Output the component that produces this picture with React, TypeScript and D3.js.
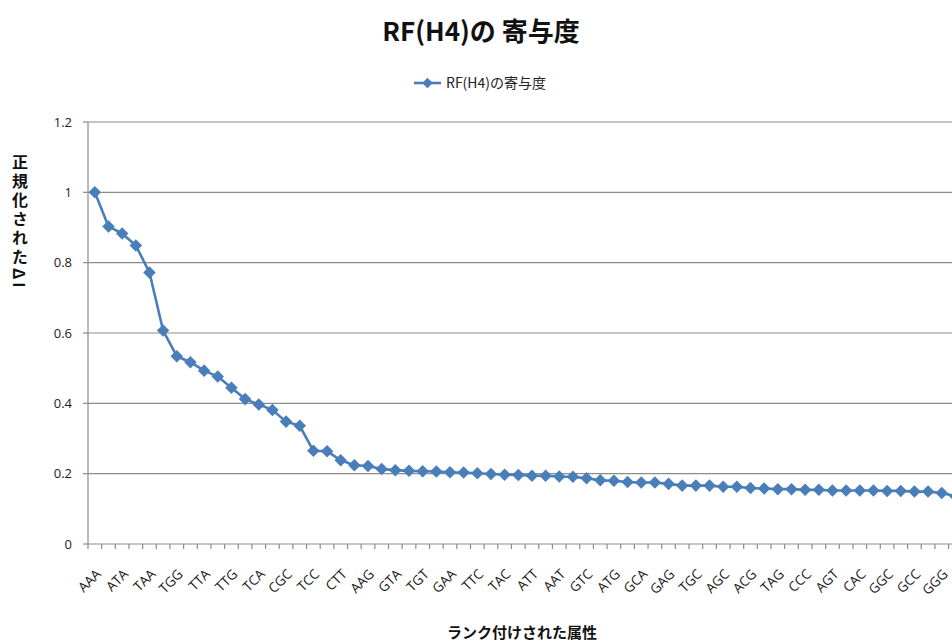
import React, { useEffect, useRef } from "react";
import * as d3 from "d3";

// Ranked contribution of each codon attribute (normalised so the top = 1)
const values: number[] = [
  1.0, 0.903, 0.883, 0.849, 0.772, 0.607, 0.534, 0.517, 0.493, 0.476,
  0.444, 0.412, 0.397, 0.381, 0.348, 0.336, 0.265, 0.264, 0.238, 0.224,
  0.222, 0.213, 0.21, 0.208, 0.207, 0.206, 0.204, 0.203, 0.201, 0.199,
  0.197, 0.196, 0.194, 0.194, 0.192, 0.191, 0.187, 0.181, 0.18, 0.176,
  0.175, 0.175, 0.171, 0.166, 0.166, 0.166, 0.163, 0.163, 0.159, 0.158,
  0.156, 0.156, 0.154, 0.154, 0.152, 0.152, 0.152, 0.152, 0.151, 0.151,
  0.149, 0.149, 0.145, 0.136,
];

// Labels shown on every second rank (0, 2, 4, ...)
const tickLabels: string[] = [
  "AAA", "ATA", "TAA", "TGG", "TTA", "TTG", "TCA", "CGC", "TCC", "CTT",
  "AAG", "GTA", "TGT", "GAA", "TTC", "TAC", "ATT", "AAT", "GTC", "ATG",
  "GCA", "GAG", "TGC", "AGC", "ACG", "TAG", "CCC", "AGT", "CAC", "GGC",
  "GCC", "GGG",
];

const yTicks: number[] = [0, 0.2, 0.4, 0.6, 0.8, 1, 1.2];

const seriesName = "RF(H4)の寄与度";
const title = "RF(H4)の 寄与度";
const xTitle = "ランク付けされた属性";
const yTitle = "正規化されたΔI";

const W = 952;
const H = 643;
const left = 88;
const top = 122;
const bottom = 544;
const band = 13.66;
const blue = "#4a7ebb";
const grid = "#8c8c8c";
const jp = "'Noto Sans CJK JP', 'Noto Sans', sans-serif";
const latin = "'Open Sans', 'Liberation Sans', Arial, sans-serif";

export default function App() {
  const ref = useRef<SVGSVGElement | null>(null);

  useEffect(() => {
    const svg = d3.select(ref.current);
    svg.selectAll("*").remove();

    const idx = d3.range(values.length);
    const x = d3
      .scaleBand<number>()
      .domain(idx)
      .range([left, left + band * values.length])
      .padding(0);
    const y = d3.scaleLinear().domain([0, 1.2]).range([bottom, top]);
    const cx = (i: number) => (x(i) as number) + x.bandwidth() / 2;

    svg.append("rect").attr("width", W).attr("height", H).attr("fill", "#fff");

    // horizontal gridlines
    svg
      .append("g")
      .selectAll("line")
      .data(yTicks.filter((t) => t > 0))
      .join("line")
      .attr("x1", left)
      .attr("x2", W)
      .attr("y1", (d) => y(d))
      .attr("y2", (d) => y(d))
      .attr("stroke", grid)
      .attr("stroke-width", 1.2);

    // y axis
    const ya = svg.append("g");
    ya.append("line")
      .attr("x1", left)
      .attr("x2", left)
      .attr("y1", top)
      .attr("y2", bottom)
      .attr("stroke", grid)
      .attr("stroke-width", 1.2);
    ya.selectAll("line.tk")
      .data(yTicks)
      .join("line")
      .attr("class", "tk")
      .attr("x1", left - 5)
      .attr("x2", left)
      .attr("y1", (d) => y(d))
      .attr("y2", (d) => y(d))
      .attr("stroke", grid)
      .attr("stroke-width", 1.2);
    ya.selectAll("text")
      .data(yTicks)
      .join("text")
      .attr("x", left - 16)
      .attr("y", (d) => y(d))
      .attr("dy", "0.35em")
      .attr("text-anchor", "end")
      .attr("font-family", latin)
      .attr("font-size", 13)
      .attr("fill", "#222")
      .text((d) => String(d));

    // x axis
    const xa = svg.append("g");
    xa.append("line")
      .attr("x1", left)
      .attr("x2", W)
      .attr("y1", bottom)
      .attr("y2", bottom)
      .attr("stroke", grid)
      .attr("stroke-width", 1.2);
    xa.selectAll("line.tk")
      .data(d3.range(values.length + 1))
      .join("line")
      .attr("class", "tk")
      .attr("x1", (i) => left + band * i)
      .attr("x2", (i) => left + band * i)
      .attr("y1", bottom)
      .attr("y2", bottom + 5)
      .attr("stroke", grid)
      .attr("stroke-width", 1.2);
    xa.selectAll("text")
      .data(tickLabels)
      .join("text")
      .attr("transform", (_d, k) => `translate(${cx(k * 2) + 7},${bottom + 31}) rotate(-45)`)
      .attr("text-anchor", "end")
      .attr("font-family", latin)
      .attr("font-size", 13.5)
      .attr("fill", "#1a1a1a")
      .text((d) => d);

    // series line + diamond markers
    const line = d3
      .line<number>()
      .x((_d, i) => cx(i))
      .y((d) => y(d));
    svg
      .append("path")
      .datum(values)
      .attr("d", line)
      .attr("fill", "none")
      .attr("stroke", blue)
      .attr("stroke-width", 2.6)
      .attr("stroke-linejoin", "round");

    const diamond = d3.symbol(d3.symbolDiamond2, 100);
    svg
      .append("g")
      .selectAll("path")
      .data(values)
      .join("path")
      .attr("transform", (d, i) => `translate(${cx(i)},${y(d)})`)
      .attr("d", diamond() as string)
      .attr("fill", blue);

    // chart title
    svg
      .append("text")
      .attr("x", 481)
      .attr("y", 41)
      .attr("text-anchor", "middle")
      .attr("font-family", jp)
      .attr("font-size", 26)
      .attr("fill", "#111")
      .text(title)
      .style("font-weight", "bold");

    // legend
    const lg = svg.append("g");
    lg.append("line")
      .attr("x1", 414)
      .attr("x2", 441)
      .attr("y1", 83)
      .attr("y2", 83)
      .attr("stroke", blue)
      .attr("stroke-width", 2.6);
    lg.append("path")
      .attr("transform", "translate(427.5,83)")
      .attr("d", d3.symbol(d3.symbolDiamond2, 70)() as string)
      .attr("fill", blue);
    lg.append("text")
      .attr("x", 446)
      .attr("y", 88)
      .attr("font-family", jp)
      .attr("font-size", 14)
      .attr("fill", "#222")
      .text(seriesName);

    // axis titles
    svg
      .append("text")
      .attr("x", 522)
      .attr("y", 638)
      .attr("text-anchor", "middle")
      .attr("font-family", jp)
      .attr("font-size", 15)
      .attr("font-weight", "bold")
      .attr("fill", "#111")
      .text(xTitle);

    svg
      .append("text")
      .attr("x", 20)
      .attr("y", 154)
      .attr("font-family", jp)
      .attr("font-size", 16)
      .attr("font-weight", "bold")
      .attr("letter-spacing", 3)
      .attr("fill", "#111")
      .style("writing-mode", "vertical-rl")
      .text(yTitle);
  }, []);

  return (
    <svg
      ref={ref}
      width={W}
      height={H}
      style={{ position: "absolute", left: 0, top: 0, display: "block", overflow: "hidden" }}
    />
  );
}
